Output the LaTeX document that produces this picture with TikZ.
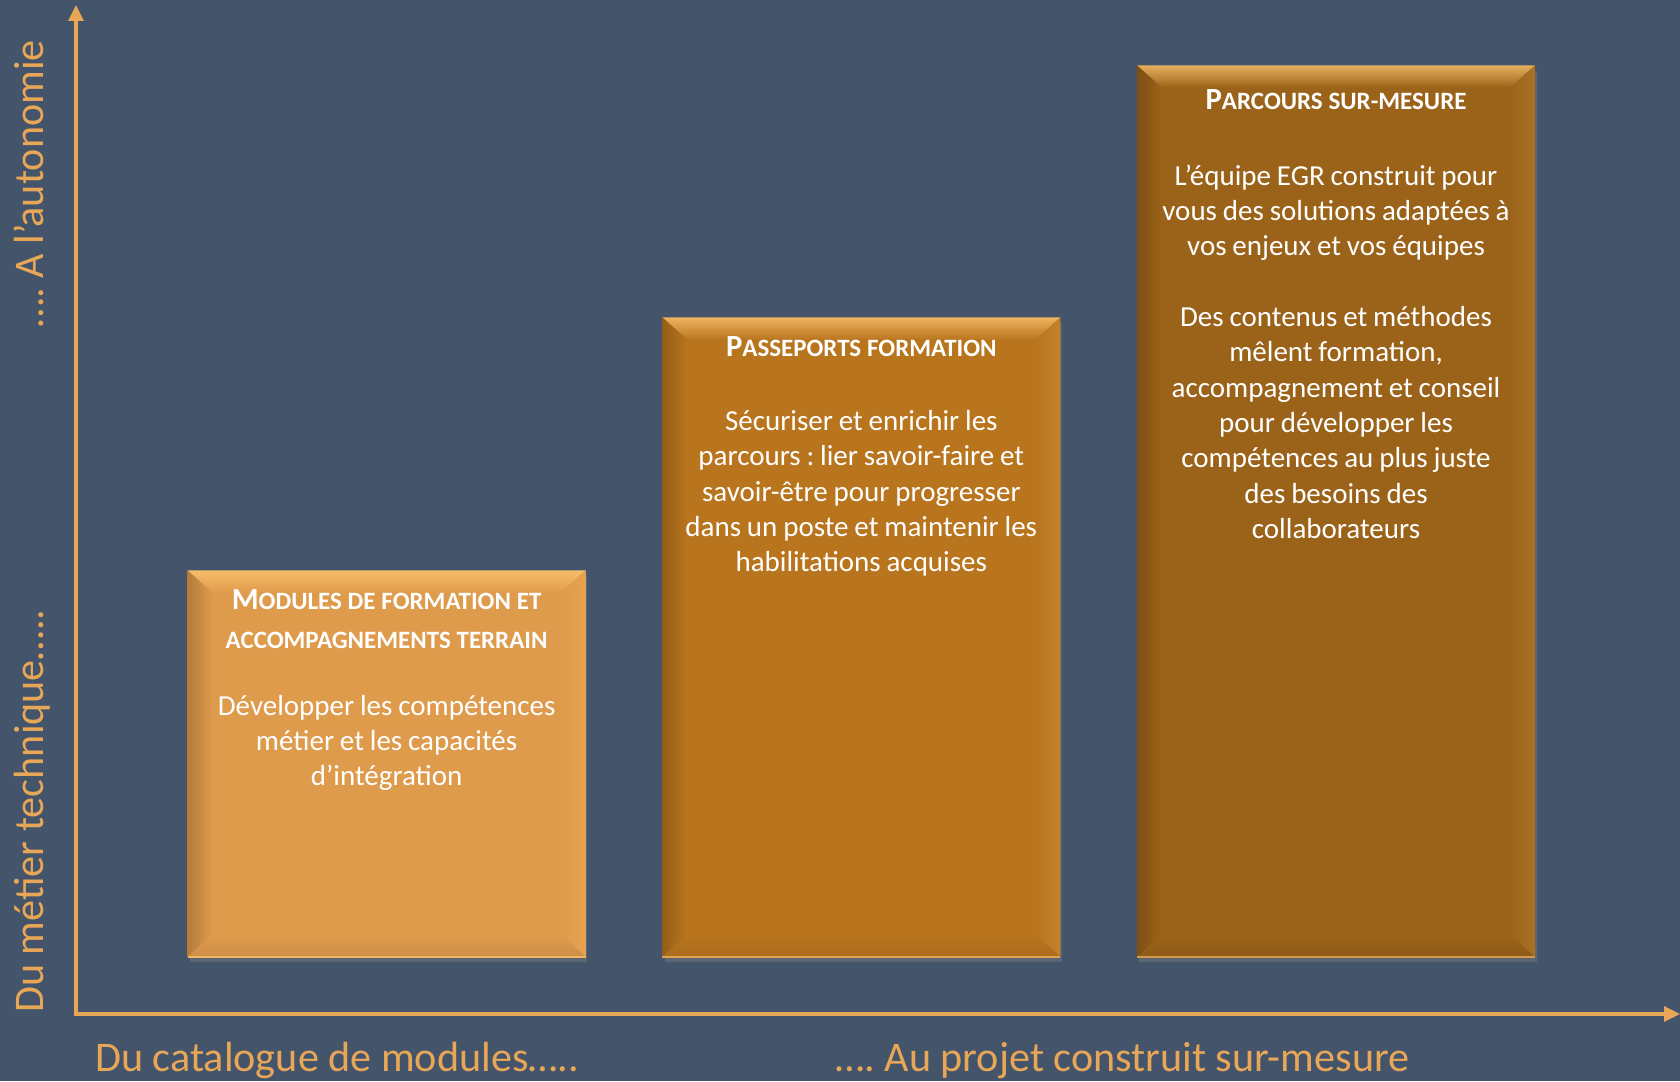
\documentclass[tikz,border=0pt]{standalone}
\usepackage{fontspec}
\setmainfont{Carlito}
\frenchspacing
\usetikzlibrary{positioning,shadows,arrows.meta}
\definecolor{fond}{HTML}{44546A}
\definecolor{axe}{HTML}{E8A757}
\definecolor{clair}{HTML}{FFC874}
\definecolor{orangeA}{HTML}{DF9B4C}
\definecolor{orangeB}{HTML}{B9751E}
\definecolor{orangeC}{HTML}{9B6319}
\newcommand{\fonttitre}{\fontsize{17.5}{22}\selectfont\bfseries}
\newcommand{\fontcorps}{\fontsize{16.5}{20.1}\selectfont}
\newcommand{\fontaxe}{\fontsize{24}{28}\selectfont}
\newcommand{\petit}[1]{{\fontsize{14.2}{15}\selectfont #1}}
% biseau autour d'une boite : #1 nom du noeud, #2 couleur
\newcommand{\biseau}[2]{%
  \shade[top color=clair!75!#2, bottom color=#2] (#1.north west) -- (#1.north east) -- ([shift={(-0.5,-0.45)}]#1.north east) -- ([shift={(0.5,-0.45)}]#1.north west) -- cycle;
  \shade[left color=#2!80!black, right color=#2] (#1.north west) -- ([shift={(0.5,-0.45)}]#1.north west) -- ([shift={(0.5,0.45)}]#1.south west) -- (#1.south west) -- cycle;
  \shade[left color=#2, right color=#2!85!clair] (#1.north east) -- ([shift={(-0.5,-0.45)}]#1.north east) -- ([shift={(-0.5,0.45)}]#1.south east) -- (#1.south east) -- cycle;
  \shade[top color=#2, bottom color=#2!92!black] (#1.south west) -- ([shift={(0.5,0.45)}]#1.south west) -- ([shift={(-0.5,0.45)}]#1.south east) -- (#1.south east) -- cycle;
  \draw[clair!55!#2, line width=0.8pt] (#1.south west) -- (#1.south east);
}
\tikzset{
  boite/.style={minimum width=7.95cm, inner sep=0, drop shadow={shadow xshift=0.04cm, shadow yshift=-0.1cm, opacity=0.4}},
  texte/.style={text=white, text width=7.6cm, align=center, inner sep=0, anchor=north},
  legende/.style={text=axe, inner sep=0, font=\fontaxe, anchor=base west}
}
\begin{document}
\begin{tikzpicture}
   \useasboundingbox (0,0) rectangle (33.6,21.62);
   \fill[fond] (0,0) rectangle (33.6,21.62);
   \coordinate (origine) at (1.52,1.34);
   \coordinate (haut) at (1.52,21.52);
   \coordinate (droite) at (33.6,1.34);
   \draw[axe, line width=1.8pt, {Triangle[length=0.32cm,width=0.3cm]}-{Triangle[length=0.32cm,width=0.3cm]}] (haut) -- (origine) -- (droite);

   \node[boite, fill=orangeA, minimum height=7.72cm, anchor=south west] (modules) at (3.75,2.48) {};
   \node[boite, fill=orangeB, minimum height=12.78cm, right=1.53cm of modules.south east, anchor=south west] (passeports) {};
   \node[boite, fill=orangeC, minimum height=17.82cm, right=1.53cm of passeports.south east, anchor=south west] (parcours) {};
   \biseau{modules}{orangeA}
   \biseau{passeports}{orangeB}
   \biseau{parcours}{orangeC}

   \node[texte, below=0.38cm of modules.north] (modulesTexte) {%
      {\fonttitre M\petit{ODULES DE FORMATION ET}\\\petit{ACCOMPAGNEMENTS TERRAIN}\par}
      \vspace{18pt}
      {\fontcorps Développer les compétences\\métier et les capacités\\d’intégration\par}};
   \node[texte, below=0.38cm of passeports.north] (passeportsTexte) {%
      {\fonttitre P\petit{ASSEPORTS FORMATION}\par}
      \vspace{22pt}
      {\fontcorps Sécuriser et enrichir les\\parcours : lier savoir-faire et\\savoir-être pour progresser\\dans un poste et maintenir les\\habilitations acquises\par}};
   \node[texte, below=0.48cm of parcours.north] (parcoursTexte) {%
      {\fonttitre P\petit{ARCOURS SUR-MESURE}\par}
      \vspace{23pt}
      {\fontcorps L’équipe EGR construit pour\\vous des solutions adaptées à\\vos enjeux et vos équipes\par}
      \vspace{20pt}
      {\fontcorps Des contenus et méthodes\\mêlent formation,\\accompagnement et conseil\\pour développer les\\compétences au plus juste\\des besoins des\\collaborateurs\par}};

   \node[legende] (catalogue) at (1.9,0.19) {Du catalogue de modules…..};
   \node[legende] (projet) at (16.7,0.19) {…. Au projet construit sur-mesure};
   \node[legende, rotate=90] (metier) at (0.86,1.36) {Du métier technique…..};
   \node[legende, rotate=90] (autonomie) at (0.86,15.06) {…. A l’autonomie};
\end{tikzpicture}
\end{document}
